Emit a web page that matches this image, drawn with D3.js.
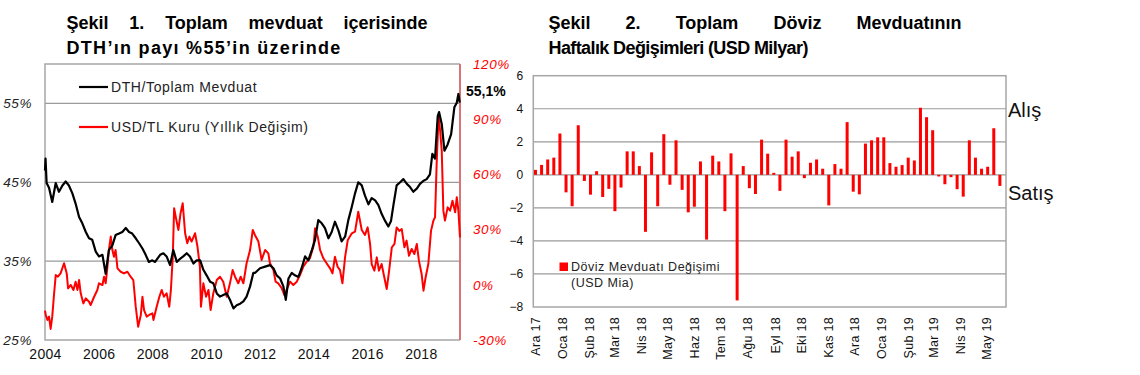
<!DOCTYPE html>
<html>
<head>
<meta charset="utf-8">
<script src="https://cdn.jsdelivr.net/npm/d3@7"></script>
<style>
body { margin: 0; background: #fff; }
svg { display: block; font-family: "Liberation Sans", Arial, sans-serif; }
</style>
</head>
<body>
<svg id="chart" width="1140" height="375"></svg>
<script>
/////////////////////////////////////////////////////////////////////////
// data

// Şekil 1: DTH / toplam mevduat (%), [decimal year, value]
var dthSeries = [
	[2004.00,46.5],[2004.02,48.0],[2004.06,44.9],[2004.15,44.3],[2004.27,42.5],[2004.40,44.9],[2004.52,43.8],
	[2004.65,44.6],[2004.77,45.1],[2004.89,44.6],[2005.02,43.6],[2005.14,42.3],[2005.27,40.6],[2005.39,39.8],
	[2005.52,38.7],[2005.64,37.9],[2005.76,37.7],[2005.89,36.2],[2006.01,35.6],[2006.14,35.8],[2006.26,33.4],
	[2006.38,36.4],[2006.51,37.0],[2006.63,38.3],[2006.76,38.5],[2006.88,38.7],[2007.01,39.2],[2007.13,38.7],
	[2007.25,38.5],[2007.38,37.9],[2007.50,37.3],[2007.63,36.6],[2007.75,35.8],[2007.87,34.9],[2008.00,35.1],
	[2008.10,34.9],[2008.29,35.8],[2008.41,36.0],[2008.53,35.6],[2008.66,34.5],[2008.78,36.4],[2008.91,34.9],
	[2009.03,35.3],[2009.15,35.6],[2009.28,36.0],[2009.40,35.6],[2009.53,34.7],[2009.65,35.1],[2009.78,35.1],
	[2009.90,33.9],[2010.02,33.2],[2010.15,32.4],[2010.27,32.2],[2010.40,30.9],[2010.52,30.5],[2010.64,30.7],
	[2010.77,30.9],[2010.89,30.1],[2011.02,29.0],[2011.14,29.4],[2011.27,29.6],[2011.39,29.9],[2011.51,30.5],
	[2011.64,31.8],[2011.76,33.5],[2011.82,33.5],[2012.01,34.1],[2012.20,34.3],[2012.38,34.5],[2012.51,34.1],
	[2012.63,33.2],[2012.76,32.8],[2012.88,31.8],[2012.97,30.1],[2013.07,32.8],[2013.19,33.5],[2013.31,33.2],
	[2013.44,33.0],[2013.56,34.1],[2013.69,35.6],[2013.81,35.1],[2013.94,36.4],[2014.06,37.7],[2014.18,40.2],
	[2014.31,39.8],[2014.43,39.2],[2014.56,37.9],[2014.68,38.7],[2014.80,40.0],[2014.93,38.9],[2015.05,37.5],
	[2015.18,38.1],[2015.30,40.2],[2015.43,41.9],[2015.55,43.6],[2015.67,45.0],[2015.80,44.6],[2015.92,43.3],
	[2016.05,42.2],[2016.17,43.0],[2016.30,42.7],[2016.42,42.1],[2016.54,41.0],[2016.67,40.1],[2016.79,39.4],
	[2016.89,40.1],[2016.98,42.1],[2017.10,44.6],[2017.23,45.0],[2017.35,45.4],[2017.48,44.8],[2017.60,44.4],
	[2017.72,43.8],[2017.85,44.2],[2017.97,44.8],[2018.10,45.2],[2018.22,45.4],[2018.34,46.0],[2018.43,48.6],
	[2018.53,48.0],[2018.63,53.4],[2018.68,53.9],[2018.78,52.4],[2018.88,49.0],[2019.00,49.8],[2019.13,51.1],
	[2019.25,54.5],[2019.34,55.1],[2019.40,56.2],[2019.45,55.1]
]

// Şekil 1: USD/TL kuru yıllık değişim (%), [decimal year, value]
var usdSeries = [
	[2004.00,-14.0],[2004.03,-16.4],[2004.09,-19.1],[2004.15,-17.3],[2004.21,-24.0],[2004.27,-17.3],[2004.34,-4.6],
	[2004.40,5.3],[2004.48,4.4],[2004.58,6.2],[2004.71,11.7],[2004.81,6.2],[2004.86,-1.9],[2004.96,-0.1],
	[2005.06,-2.8],[2005.14,1.7],[2005.21,-2.8],[2005.27,2.6],[2005.33,-4.6],[2005.43,-10.1],[2005.52,-7.4],
	[2005.64,-9.2],[2005.70,-11.0],[2005.83,-6.5],[2005.95,-2.8],[2006.01,0.8],[2006.14,-0.1],[2006.20,4.4],
	[2006.26,0.8],[2006.32,8.9],[2006.38,18.9],[2006.45,26.2],[2006.51,18.9],[2006.57,15.2],[2006.63,18.9],
	[2006.70,8.9],[2006.82,7.1],[2006.94,6.2],[2007.07,7.1],[2007.19,4.4],[2007.29,2.6],[2007.38,-11.9],
	[2007.47,-22.8],[2007.57,-16.4],[2007.63,-6.5],[2007.69,-13.7],[2007.79,-17.3],[2007.88,-16.4],[2008.00,-15.5],
	[2008.04,-19.1],[2008.16,-11.9],[2008.26,-6.5],[2008.35,-2.8],[2008.43,-6.5],[2008.53,-4.6],[2008.63,-11.9],
	[2008.69,-2.8],[2008.76,15.2],[2008.81,41.6],[2008.88,36.2],[2008.97,29.8],[2009.05,38.9],[2009.13,44.3],
	[2009.22,28.0],[2009.30,22.6],[2009.38,26.2],[2009.46,23.5],[2009.59,28.0],[2009.68,20.8],[2009.77,9.8],
	[2009.81,-11.9],[2009.90,0.8],[2010.00,-6.5],[2010.09,-2.8],[2010.17,-13.7],[2010.27,-4.6],[2010.40,2.6],
	[2010.52,4.4],[2010.64,1.7],[2010.77,-6.5],[2010.89,0.8],[2010.99,8.0],[2011.08,4.4],[2011.20,0.8],
	[2011.29,4.4],[2011.39,0.8],[2011.51,11.7],[2011.64,18.9],[2011.74,29.8],[2011.82,27.1],[2011.95,23.5],
	[2012.07,13.5],[2012.20,18.9],[2012.32,17.1],[2012.38,11.7],[2012.51,8.0],[2012.59,1.7],[2012.69,0.8],
	[2012.82,-1.9],[2012.92,-5.6],[2013.00,-2.8],[2013.13,1.7],[2013.25,-0.1],[2013.38,1.7],[2013.50,5.3],
	[2013.62,9.8],[2013.75,12.6],[2013.87,14.4],[2014.00,20.8],[2014.06,30.7],[2014.16,26.2],[2014.25,18.9],
	[2014.37,14.4],[2014.49,11.7],[2014.62,8.9],[2014.71,6.2],[2014.80,15.2],[2014.90,9.8],[2014.99,8.0],
	[2015.08,0.8],[2015.18,15.2],[2015.28,24.4],[2015.43,28.0],[2015.55,28.9],[2015.67,39.7],[2015.80,29.8],
	[2015.92,27.1],[2016.02,31.2],[2016.11,22.2],[2016.17,11.3],[2016.27,7.7],[2016.36,14.9],[2016.44,7.7],
	[2016.54,11.3],[2016.64,4.1],[2016.73,-2.3],[2016.82,7.7],[2016.92,20.4],[2017.02,22.2],[2017.10,31.2],
	[2017.20,29.3],[2017.29,30.3],[2017.39,20.4],[2017.47,24.0],[2017.56,15.8],[2017.66,19.5],[2017.76,16.7],
	[2017.85,22.2],[2017.93,13.1],[2018.03,5.9],[2018.10,-3.2],[2018.18,4.1],[2018.28,11.3],[2018.38,29.3],
	[2018.47,34.9],[2018.53,36.7],[2018.59,65.7],[2018.66,91.9],[2018.72,83.7],[2018.78,72.9],[2018.84,40.3],
	[2018.90,34.9],[2019.00,42.1],[2019.09,40.3],[2019.18,45.7],[2019.28,39.4],[2019.34,47.6],[2019.40,40.3],
	[2019.46,25.8]
]

var leftTicks = [25, 35, 45, 55]
var rightTicks = [-30, 0, 30, 60, 90, 120]
var yearTicks = [2004, 2006, 2008, 2010, 2012, 2014, 2016, 2018]
var lastLabel = '55,1%'

// Şekil 2: haftalık döviz mevduatı değişimi (USD milyar), 01.12.2017'den itibaren
var weeklyFlows = [
	0.3, 0.6, 0.93, 1.04, 2.5, -1.06, -1.9, 3.0, -0.37, -1.2, 0.22, -1.34, -0.85, -2.2, -0.77, 1.42,
	1.42, 0.53, -3.45, 1.36, -1.9, 2.46, -0.6, 2.09, -0.91, -2.27, -1.93, 0.81, -3.92, 1.16, 0.81, -2.2,
	1.3, -7.6, 0.53, -0.81, -1.16, 2.13, 1.28, 0.12, -0.97, 2.13, 1.1, 1.42, -0.2, 0.73, 0.93, 0.37,
	-1.85, 0.65, 0.37, 3.19, -1.02, -1.18, 1.89, 2.09, 2.27, 2.27, 0.71, 0.49, 0.59, 1.04, 0.87, 4.06,
	3.49, 2.7, -0.1, -0.57, -0.14, -0.87, -1.32, 2.09, 1.04, 0.37, 0.49, 2.82, -0.67
]
var flowTicks = [-8, -6, -4, -2, 0, 2, 4, 6]
var monthLabels = ['Ara 17', 'Oca 18', 'Şub 18', 'Mar 18', 'Nis 18', 'May 18', 'Haz 18', 'Tem 18', 'Ağu 18',
	'Eyl 18', 'Eki 18', 'Kas 18', 'Ara 18', 'Oca 19', 'Şub 19', 'Mar 19', 'Nis 19', 'May 19']

/////////////////////////////////////////////////////////////////////////

var svg = d3.select('#chart')

function justify(words, x0, x1, y, size) {
	var g = svg.append('g').attr('font-size', size).attr('font-weight', 'bold')
	var nodes = words.map(function(w) { return g.append('text').attr('y', y).text(w) })
	var widths = nodes.map(function(n) { return n.node().getComputedTextLength() })
	var gap = (x1 - x0 - d3.sum(widths)) / (words.length - 1)
	var x = x0
	nodes.forEach(function(n, i) { n.attr('x', x); x += widths[i] + gap })
}

// titles
justify(['Şekil', '1.', 'Toplam', 'mevduat', 'içerisinde'], 66.5, 427.5, 28.5, 18)
svg.append('text').attr('x', 66.5).attr('y', 54).attr('font-size', 18).attr('font-weight', 'bold')
	.style('letter-spacing', '1.3px')
	.text('DTH’ın payı %55’in üzerinde')
justify(['Şekil', '2.', 'Toplam', 'Döviz', 'Mevduatının'], 548.5, 961.5, 28.5, 18)
svg.append('text').attr('x', 548.5).attr('y', 54).attr('font-size', 18).attr('font-weight', 'bold')
	.style('letter-spacing', '-0.6px')
	.text('Haftalık Değişimleri (USD Milyar)')

/////////////////////////////////////////////////////////////////////////
// Şekil 1

var L = {left: 45, right: 460, top: 64, bottom: 340}

var x1 = d3.scaleLinear().domain([2004, 2019.46]).range([L.left, L.right])
var yL = d3.scaleLinear().domain([25, 60]).range([L.bottom, L.top])
var yR = d3.scaleLinear().domain([-30, 120]).range([L.bottom, L.top])

var g1 = svg.append('g')

g1.selectAll('.grid').data(leftTicks.slice(1)).enter().append('line')
	.attr('x1', L.left).attr('x2', L.right)
	.attr('y1', function(d) { return yL(d) }).attr('y2', function(d) { return yL(d) })
	.attr('stroke', '#9a9a9a').attr('stroke-width', 1.2)

g1.append('path')
	.attr('d', 'M' + L.right + ',' + L.top + 'H' + L.left + 'V' + L.bottom + 'H' + L.right)
	.attr('fill', 'none').attr('stroke', '#a6a6a6').attr('stroke-width', 1.5)
g1.append('line').attr('x1', L.right).attr('x2', L.right).attr('y1', L.top).attr('y2', L.bottom)
	.attr('stroke', '#d77575').attr('stroke-width', 2)

var lineUsd = d3.line().x(function(d) { return x1(d[0]) }).y(function(d) { return yR(d[1]) })
var lineDth = d3.line().x(function(d) { return x1(d[0]) }).y(function(d) { return yL(d[1]) })

g1.append('path').datum(usdSeries).attr('d', lineUsd)
	.attr('fill', 'none').attr('stroke', '#ff0000').attr('stroke-width', 2).attr('stroke-linejoin', 'round')
g1.append('path').datum(dthSeries).attr('d', lineDth)
	.attr('fill', 'none').attr('stroke', '#000').attr('stroke-width', 2.2).attr('stroke-linejoin', 'round')

var axL = g1.append('g').attr('transform', 'translate(' + L.left + ',0)')
	.call(d3.axisLeft(yL).tickValues(leftTicks).tickSize(0).tickPadding(13).tickFormat(function(d) { return d + '%' }))
var axR = g1.append('g').attr('transform', 'translate(' + L.right + ',0)')
	.call(d3.axisRight(yR).tickValues(rightTicks).tickSize(0).tickPadding(13).tickFormat(function(d) { return d + '%' }))
var axX = g1.append('g').attr('transform', 'translate(0,' + L.bottom + ')')
	.call(d3.axisBottom(x1).tickValues(yearTicks).tickSize(0).tickPadding(9).tickFormat(d3.format('d')))

;[axL, axR, axX].forEach(function(a) { a.select('.domain').remove() })
axL.selectAll('text').attr('font-size', 13.5).attr('font-style', 'italic').attr('fill', '#222')
	.attr('font-family', '"Liberation Sans", Arial, sans-serif').style('letter-spacing', '0.6px')
axR.selectAll('text').attr('font-size', 13.5).attr('font-style', 'italic').attr('fill', '#ff0000')
	.attr('font-family', '"Liberation Sans", Arial, sans-serif').style('letter-spacing', '0.6px')
axX.selectAll('text').attr('font-size', 14).attr('fill', '#111')
	.attr('font-family', '"Liberation Sans", Arial, sans-serif').style('letter-spacing', '0.3px')

// legend
var leg1 = g1.append('g').attr('font-size', 14).style('letter-spacing', '0.6px').attr('fill', '#222')
leg1.append('line').attr('x1', 79).attr('x2', 108).attr('y1', 87).attr('y2', 87).attr('stroke', '#000').attr('stroke-width', 2.2)
leg1.append('text').attr('x', 111).attr('y', 87).attr('dy', '0.35em').text('DTH/Toplam Mevduat')
leg1.append('line').attr('x1', 79).attr('x2', 108).attr('y1', 127).attr('y2', 127).attr('stroke', '#ff0000').attr('stroke-width', 2.2)
leg1.append('text').attr('x', 111).attr('y', 127).attr('dy', '0.35em').text('USD/TL Kuru (Yıllık Değişim)')

var last = dthSeries[dthSeries.length - 1]
g1.append('text').attr('x', L.right + 6).attr('y', yL(last[1]) - 12)
	.attr('dy', '0.35em').attr('font-size', 14).attr('font-weight', 'bold').text(lastLabel)

/////////////////////////////////////////////////////////////////////////
// Şekil 2

var R = {left: 533.3, right: 1006, top: 75.7, bottom: 307}

var firstWeek = new Date(2017, 11, 1)
var weekDates = weeklyFlows.map(function(v, i) { return d3.timeDay.offset(firstWeek, 7 * i) })
var monthDates = d3.timeMonth.range(new Date(2017, 11, 1), new Date(2019, 5, 1))

var x2 = d3.scaleTime().domain([new Date(2017, 10, 28, 12), new Date(2019, 4, 24)]).range([R.left, R.right])
var y2 = d3.scaleLinear().domain([-8, 6]).range([R.bottom, R.top])

var g2 = svg.append('g')

g2.selectAll('.grid2').data(flowTicks.slice(1, -1)).enter().append('line')
	.attr('x1', R.left).attr('x2', R.right)
	.attr('y1', function(d) { return y2(d) }).attr('y2', function(d) { return y2(d) })
	.attr('stroke', '#9a9a9a').attr('stroke-width', 1.2)

g2.append('rect').attr('x', R.left).attr('y', R.top).attr('width', R.right - R.left).attr('height', R.bottom - R.top)
	.attr('fill', 'none').attr('stroke', '#a6a6a6').attr('stroke-width', 1.5)

g2.selectAll('.bar').data(weeklyFlows).enter().append('rect')
	.attr('x', function(d, i) { return x2(weekDates[i]) - 1.5 })
	.attr('width', 3)
	.attr('y', function(d) { return y2(Math.max(0, d)) })
	.attr('height', function(d) { return Math.abs(y2(d) - y2(0)) })
	.attr('fill', '#ff0000')

var ax2 = g2.append('g').attr('transform', 'translate(' + R.left + ',0)')
	.call(d3.axisLeft(y2).tickValues(flowTicks).tickSize(0).tickPadding(10))
ax2.select('.domain').remove()
ax2.selectAll('text').attr('font-size', 12).attr('fill', '#111').attr('font-family', '"Liberation Sans", Arial, sans-serif')

var axM = g2.append('g').attr('transform', 'translate(0,' + R.bottom + ')')
	.call(d3.axisBottom(x2).tickValues(monthDates).tickSize(0).tickFormat(function(d, i) { return monthLabels[i] }))
axM.select('.domain').remove()
axM.selectAll('text')
	.attr('transform', 'rotate(-90)').attr('x', -10).attr('y', 0).attr('dy', '0.35em')
	.style('text-anchor', 'end')
	.attr('font-size', 12.5).attr('fill', '#111').attr('font-family', '"Liberation Sans", Arial, sans-serif')
	.style('letter-spacing', '0.3px')

var leg2 = g2.append('g').attr('font-size', 12.5).style('letter-spacing', '0.5px').attr('fill', '#222')
leg2.append('rect').attr('x', 559.5).attr('y', 262.5).attr('width', 8.5).attr('height', 8.5).attr('fill', '#ff0000')
leg2.append('text').attr('x', 571).attr('y', 267).attr('dy', '0.35em').text('Döviz Mevduatı Değişimi')
leg2.append('text').attr('x', 571).attr('y', 283).attr('dy', '0.35em').text('(USD Mia)')

g2.append('text').attr('x', 1008).attr('y', 110).attr('dy', '0.35em').attr('font-size', 20).attr('fill', '#111').text('Alış')
g2.append('text').attr('x', 1008).attr('y', 193).attr('dy', '0.35em').attr('font-size', 20).attr('fill', '#111').text('Satış')
</script>
</body>
</html>
